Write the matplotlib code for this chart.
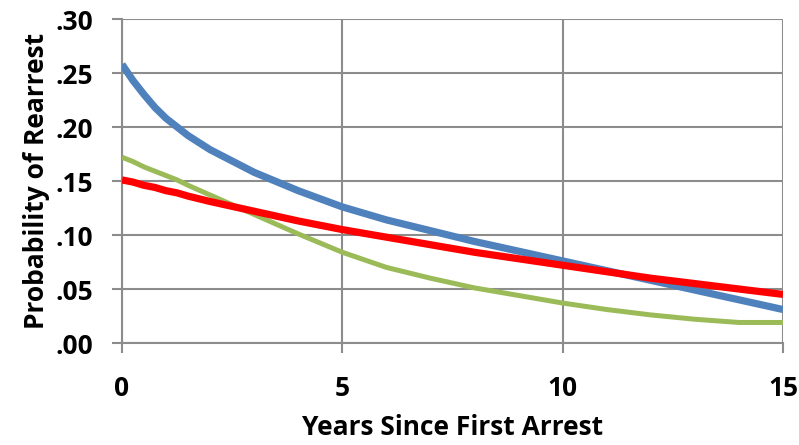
import numpy as np
import matplotlib.pyplot as plt
from matplotlib.ticker import FuncFormatter

# values
jahre = [0, 0.25, 0.5, 0.75, 1, 1.25, 1.5, 2, 3, 4, 5, 6, 7, 8, 9, 10, 11, 12, 13, 14, 15]
blau = [.258, .243, .230, .218, .208, .200, .192, .179, .158, .141, .126, .114, .104, .094, .085, .076, .067, .058, .049, .040, .031]
rot = [.151, .149, .146, .144, .141, .139, .136, .131, .122, .113, .105, .098, .091, .084, .078, .072, .066, .060, .055, .050, .045]
gruen = [.172, .168, .163, .159, .155, .151, .146, .137, .119, .101, .084, .070, .060, .051, .044, .037, .031, .026, .022, .019, .019]
xticks = [0, 5, 10, 15]
yticks = [0, .05, .10, .15, .20, .25, .30]

plt.rcParams['font.family'] = ['Open Sans', 'DejaVu Sans']
plt.rcParams['font.weight'] = 'bold'
fig = plt.figure(figsize=(7.99, 4.45), dpi=100)
ax = fig.add_axes([0.1527, 0.2292, 0.8273, 0.7281])

ax.plot(jahre, gruen, color='#9BBB59', lw=3.6, solid_capstyle='butt', solid_joinstyle='round', zorder=3)
ax.plot(jahre, blau, color='#4F81BD', lw=5.2, solid_capstyle='butt', solid_joinstyle='round', zorder=4)
ax.plot(jahre, rot, color='#FF0000', lw=5.2, solid_capstyle='butt', solid_joinstyle='round', zorder=5)

ax.set_xlim(0, 15)
ax.set_ylim(0, 0.30)
ax.set_xticks(xticks)
ax.set_yticks(yticks)
ax.yaxis.set_major_formatter(FuncFormatter(lambda v, p: ('%.2f' % v)[1:]))
ax.grid(True, color='#8C8C8C', lw=1.5)
ax.set_axisbelow(True)
for s in ['top', 'right']:
    ax.spines[s].set_visible(False)
for s in ['left', 'bottom']:
    ax.spines[s].set_color('#8C8C8C')
    ax.spines[s].set_linewidth(1.5)
ax.tick_params(axis='both', direction='out', length=7, width=1.5, color='#8C8C8C',
               labelsize=19, pad=14)
ax.tick_params(axis='x', pad=16)

ax.set_xlabel('Years Since First Arrest', fontsize=19, fontweight='bold', labelpad=9)
ax.set_ylabel('Probability of Rearrest', fontsize=19, fontweight='bold', labelpad=4)

fig.savefig('out.png', dpi=100)
